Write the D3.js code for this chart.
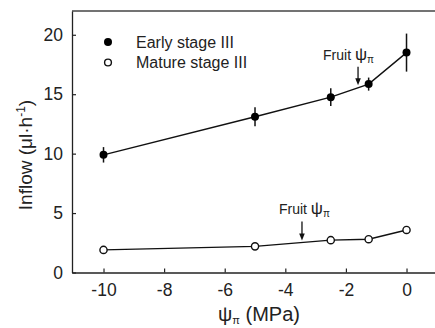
<!DOCTYPE html>
<html>
<head>
<meta charset="utf-8">
<script src="https://cdn.jsdelivr.net/npm/d3@7"></script>
<style>
  body { margin: 0; background: #fff; }
  text { font-family: "Liberation Sans", Arial, sans-serif; fill: #222; }
</style>
</head>
<body>
<div id="chart"></div>
<script>
// data
const psi = [-10, -5, -2.5, -1.25, 0];
const earlyInflow = [9.9, 13.1, 14.75, 15.85, 18.5];
const earlyErr = [0.65, 0.8, 0.75, 0.55, 1.6];
const matureInflow = [1.9, 2.2, 2.72, 2.8, 3.58];
const xTicks = [-10, -8, -6, -4, -2, 0];
const yTicks = [0, 5, 10, 15, 20];
const legendLabels = ["Early stage III", "Mature stage III"];
// arrows marking fruit osmotic potential
const arrowPsi = [-1.6, -3.45];
const arrowTop = [17.3, 4.3];
const arrowTip = [15.75, 2.7];
const labelShift = [35, 23]; // text start left of arrow, px

const width = 435, height = 328;
const margin = {top: 11, right: 0, bottom: 55.5, left: 72};

const svg = d3.select("#chart")
    .append("svg")
    .attr("width", width)
    .attr("height", height);

const x = d3.scaleLinear()
    .domain([-11.04, 0.94])
    .range([margin.left, width - margin.right]);

const y = d3.scaleLinear()
    .domain([0, 22])
    .range([height - margin.bottom, margin.top]);

const axisColor = "#222";
const font = "Liberation Sans, Arial, sans-serif";

// frame: left, bottom and top lines (right side cropped)
svg.append("line")
    .attr("x1", margin.left).attr("x2", width)
    .attr("y1", margin.top).attr("y2", margin.top)
    .attr("stroke", "#444").attr("stroke-width", 1.3);

// x axis, ticks inward, plain hyphen minus
const xAxis = svg.append("g")
    .attr("transform", `translate(0,${y(0)})`)
    .call(d3.axisBottom(x).tickValues(xTicks).tickFormat(d => String(d))
        .tickSizeInner(-4).tickSizeOuter(0).tickPadding(11));
xAxis.select(".domain").attr("stroke", axisColor).attr("stroke-width", 1.3);
xAxis.selectAll(".tick line").attr("stroke", axisColor).attr("stroke-width", 1.2);
xAxis.selectAll("text").attr("font-size", "17.5px").style("font-family", font).attr("fill", "#222");

const yAxis = svg.append("g")
    .attr("transform", `translate(${margin.left},0)`)
    .call(d3.axisLeft(y).tickValues(yTicks).tickFormat(d => String(d))
        .tickSizeInner(-4).tickSizeOuter(0).tickPadding(9));
yAxis.select(".domain").attr("stroke", axisColor).attr("stroke-width", 1.3);
yAxis.selectAll(".tick line").attr("stroke", axisColor).attr("stroke-width", 1.2);
yAxis.selectAll("text").attr("font-size", "17.5px").style("font-family", font).attr("fill", "#222");

// axis titles
svg.append("text")
    .attr("transform", `translate(32,155) rotate(-90)`)
    .attr("text-anchor", "middle")
    .attr("font-size", "19px")
    .html("Inflow (&#956;l&#183;h<tspan font-size='12px' dy='-7'>-1</tspan><tspan dy='7'>)</tspan>");

const xt = svg.append("text")
    .attr("x", 259)
    .attr("y", 321)
    .attr("text-anchor", "middle")
    .attr("font-size", "20px");
xt.append("tspan").text("\u03C8");
xt.append("tspan").attr("font-size", "11px").attr("dy", 3).text("\u03C0");
xt.append("tspan").attr("dy", -3).text(" (MPa)");

// lines
const pts = (vals) => psi.map((p, i) => [p, vals[i]]);
const line = d3.line().x(d => x(d[0])).y(d => y(d[1]));

svg.append("path")
    .datum(pts(earlyInflow))
    .attr("d", line)
    .attr("fill", "none").attr("stroke", "#111").attr("stroke-width", 1.4);

svg.append("path")
    .datum(pts(matureInflow))
    .attr("d", line)
    .attr("fill", "none").attr("stroke", "#111").attr("stroke-width", 1.4);

// error bars (early only visible)
svg.selectAll("line.err")
    .data(psi)
    .enter().append("line")
    .attr("class", "err")
    .attr("x1", d => x(d)).attr("x2", d => x(d))
    .attr("y1", (d, i) => y(earlyInflow[i] - earlyErr[i]))
    .attr("y2", (d, i) => y(earlyInflow[i] + earlyErr[i]))
    .attr("stroke", "#111").attr("stroke-width", 1.5);

svg.selectAll("circle.early")
    .data(psi)
    .enter().append("circle")
    .attr("class", "early")
    .attr("cx", d => x(d))
    .attr("cy", (d, i) => y(earlyInflow[i]))
    .attr("r", 4)
    .attr("fill", "#000");

svg.selectAll("circle.mature")
    .data(psi)
    .enter().append("circle")
    .attr("class", "mature")
    .attr("cx", d => x(d))
    .attr("cy", (d, i) => y(matureInflow[i]))
    .attr("r", 3.6)
    .attr("fill", "#fff")
    .attr("stroke", "#111")
    .attr("stroke-width", 1.4);

// legend
const legend = svg.append("g");
legendLabels.forEach((lab, i) => {
    const ly = 42 + i * 20.5;
    legend.append("circle")
        .attr("cx", 108).attr("cy", ly).attr("r", i === 0 ? 4 : 3.4)
        .attr("fill", i === 0 ? "#000" : "#fff")
        .attr("stroke", "#111").attr("stroke-width", i === 0 ? 0 : 1.4);
    legend.append("text")
        .attr("x", 136).attr("y", ly + 5.5)
        .attr("font-size", "16px")
        .text(lab);
});

// "Fruit psi_pi" arrows
arrowPsi.forEach((p, i) => {
    const ax = x(p);
    const top = y(arrowTop[i]);
    const tip = y(arrowTip[i]);
    svg.append("line")
        .attr("x1", ax).attr("x2", ax)
        .attr("y1", top).attr("y2", tip - 5)
        .attr("stroke", "#111").attr("stroke-width", 1.3);
    svg.append("path")
        .attr("d", `M${ax - 2.8},${tip - 7} L${ax + 2.8},${tip - 7} L${ax},${tip} Z`)
        .attr("fill", "#111");
    const t = svg.append("text")
        .attr("x", ax - labelShift[i])
        .attr("y", top - 7)
        .attr("font-size", "14px");
    t.append("tspan").text("Fruit ");
    t.append("tspan").attr("font-size", "17px").text("\u03C8");
    t.append("tspan").attr("font-size", "10px").attr("dy", 3).text("\u03C0");
});
</script>
</body>
</html>
